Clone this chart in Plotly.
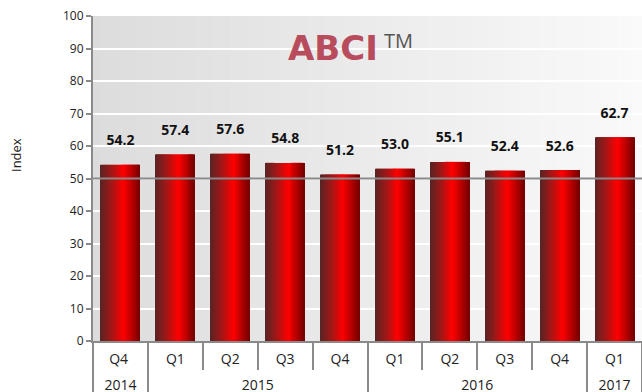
import plotly.graph_objects as go

years = ["2014", "2015", "2015", "2015", "2015", "2016", "2016", "2016", "2016", "2017"]
quarters = ["Q4", "Q1", "Q2", "Q3", "Q4", "Q1", "Q2", "Q3", "Q4", "Q1"]
values = [54.2, 57.4, 57.6, 54.8, 51.2, 53.0, 55.1, 52.4, 52.6, 62.7]
value_labels = ["54.2", "57.4", "57.6", "54.8", "51.2", "53.0", "55.1", "52.4", "52.6", "62.7"]
y_ticks = list(range(0, 101, 10))
THRESHOLD = 50

W, H = 642, 392
ML, MR, MT, MB = 93, 0, 16, 51
PW = W - ML - MR
PH = H - MT - MB
LABEL_PX = 14


def lerp(stops, t):
    for (t0, c0), (t1, c1) in zip(stops, stops[1:]):
        if t0 <= t <= t1:
            f = (t - t0) / (t1 - t0) if t1 > t0 else 0
            c = [round(a + (b - a) * f) for a, b in zip(c0, c1)]
            return "rgb(%d,%d,%d)" % tuple(c)
    return "rgb(%d,%d,%d)" % stops[-1][1]


# display strings for the two label rows of the category axis; the quarter row gets a
# tiny second line so the year row sits lower, and the first (2014) quarter gets a
# trailing space so the within-year order stays Q1..Q4
q_disp = []
for i, q in enumerate(quarters):
    suffix = " " if i == 0 else ""
    q_disp.append("<span style='font-size:%dpx'>%s%s</span><br>"
                  "<span style='font-size:1px'>\u00a0</span>" % (LABEL_PX, q, suffix))
y_disp = ["<span style='font-size:%dpx'>%s</span>" % (LABEL_PX, y) for y in years]
x = [y_disp, q_disp]

bar_stops = [(0.0, (88, 36, 36)), (0.3, (165, 22, 22)), (0.58, (255, 0, 0)),
             (0.8, (185, 0, 0)), (1.0, (118, 0, 0))]
bg_stops = [(0.0, (220, 220, 220)), (1.0, (250, 250, 250))]

fig = go.Figure()

N = 40
BAR_W = 0.71
sw = BAR_W / N
for k in range(N):
    t = (k + 0.5) / N
    fig.add_trace(go.Bar(
        x=x, y=values,
        width=sw * (1.6 if k < N - 1 else 1.0),
        offset=-BAR_W / 2 + k * sw,
        marker=dict(color=lerp(bar_stops, t), line=dict(width=0)),
        hoverinfo="skip", showlegend=False,
    ))

fig.add_trace(go.Scatter(
    x=x, y=values, mode="markers+text", text=value_labels,
    textposition="top center",
    marker=dict(size=24, opacity=0),
    textfont=dict(family="Open Sans", size=14, color="#111", weight="bold"),
    hoverinfo="skip", showlegend=False, cliponaxis=False,
))

shapes = []
NS = 64
for i in range(NS):
    shapes.append(dict(
        type="rect", xref="paper", yref="paper",
        x0=i / NS, x1=(i + 1.05) / NS, y0=0, y1=1,
        fillcolor=lerp(bg_stops, (i + 0.5) / NS), line=dict(width=0),
        layer="below",
    ))
shapes.append(dict(type="line", xref="paper", yref="y", x0=0, x1=1,
                   y0=THRESHOLD, y1=THRESHOLD,
                   line=dict(color="#8a8a8a", width=2), layer="above"))

annotations = [
    dict(text="<b>ABCI</b>", xref="paper", yref="paper",
         x=(333 - ML) / PW, y=(MT + PH - 48) / PH, xanchor="center", yanchor="middle",
         showarrow=False, font=dict(family="DejaVu Sans", size=34, color="#b84b5c")),
    dict(text="TM", xref="paper", yref="paper",
         x=(382 - ML) / PW, y=(MT + PH - 41) / PH, xanchor="left", yanchor="middle",
         showarrow=False, font=dict(family="Open Sans", size=20, color="#555")),
    dict(text="Index", xref="paper", yref="paper",
         x=(16 - ML) / PW, y=(MT + PH - 155) / PH, xanchor="center", yanchor="middle",
         textangle=-90, showarrow=False,
         font=dict(family="Open Sans", size=13, color="#222")),
]

fig.update_layout(
    width=W, height=H,
    margin=dict(l=ML, r=MR, t=MT, b=MB, pad=0),
    paper_bgcolor="white", plot_bgcolor="#ebebeb",
    barmode="overlay",
    shapes=shapes, annotations=annotations,
    showlegend=False,
    xaxis=dict(
        type="multicategory", range=[-0.5, 9.5], autorange=False,
        showline=True, linecolor="#8a8a8a", linewidth=2,
        ticks="outside", tickson="boundaries", ticklen=27, tickcolor="#8a8a8a", tickwidth=2,
        showdividers=True, dividercolor="#8a8a8a", dividerwidth=2,
        tickfont=dict(family="Open Sans", size=12, color="#222"),
        ticklabelstandoff=7,
        showgrid=False, zeroline=False,
    ),
    yaxis=dict(
        range=[0, 100], tickvals=y_ticks, showgrid=True, gridcolor="white", gridwidth=2,
        showline=True, linecolor="#8a8a8a", linewidth=2,
        ticks="outside", ticklen=5, tickcolor="#8a8a8a", tickwidth=2,
        tickfont=dict(family="Open Sans", size=12, color="#222"), zeroline=False,
    ),
)

fig.write_html("out.html")
